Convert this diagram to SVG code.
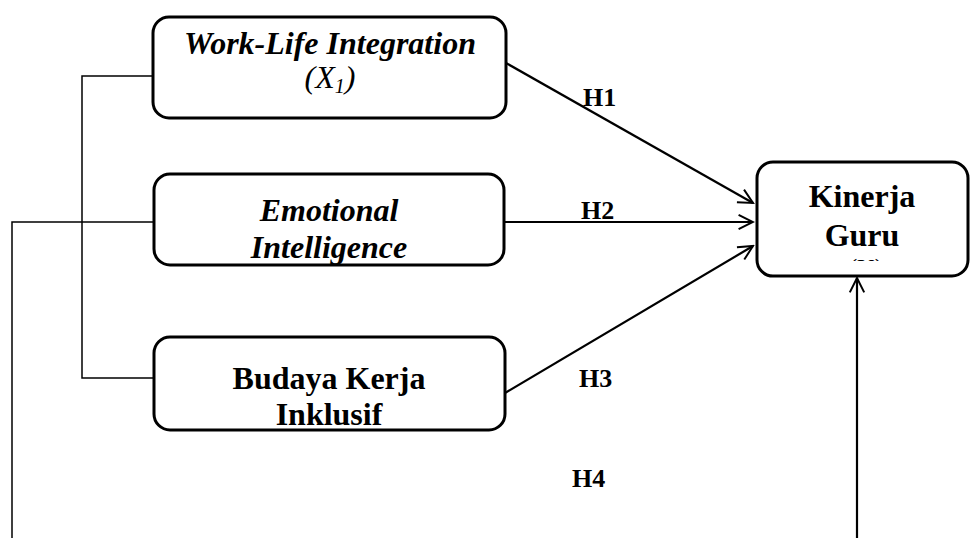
<svg xmlns="http://www.w3.org/2000/svg" width="970" height="538" viewBox="0 0 970 538">
<style>
.box{fill:#fff;stroke:#000;stroke-width:3}
.t{font-family:"Liberation Serif","Times New Roman",serif;font-size:32px;fill:#000;text-anchor:middle}
.b{font-weight:bold}
.i{font-style:italic}
.h{font-family:"Liberation Serif","Times New Roman",serif;font-size:26px;font-weight:bold;fill:#000}
.ln{fill:none;stroke:#000;stroke-width:1.5}
.ar{fill:none;stroke:#000;stroke-width:2.2}
</style>
<defs>
<marker id="open" viewBox="0 0 20 20" refX="18" refY="10" markerWidth="18" markerHeight="18" markerUnits="userSpaceOnUse" orient="auto">
<path d="M2,2 L18,10 L2,18" fill="none" stroke="#000" stroke-width="2.2"/>
</marker>
<clipPath id="yclip"><rect x="757" y="240" width="211" height="21"/></clipPath>
</defs>
<g id="connectors">
<path class="ln" d="M153,76 H82 V378 H153"/>
<path class="ln" d="M153,222 H12 V538"/>
<line class="ar" x1="506" y1="63" x2="753" y2="203" marker-end="url(#open)"/>
<line class="ar" x1="505" y1="222" x2="753" y2="222" marker-end="url(#open)"/>
<line class="ar" x1="505" y1="393" x2="753" y2="246" marker-end="url(#open)"/>
<line class="ar" x1="857" y1="538" x2="857" y2="278" marker-end="url(#open)"/>
</g>
<g id="labels">
<text class="h" x="583" y="106">H1</text>
<text class="h" x="581" y="219">H2</text>
<text class="h" x="579" y="387">H3</text>
<text class="h" x="572" y="487">H4</text>
</g>
<g id="x1">
<rect class="box" x="153" y="17" width="353" height="101" rx="16"/>
<text class="t b i" x="330" y="54">Work-Life Integration</text>
<text class="t i" x="330" y="88">(X<tspan font-size="20" dy="5">1</tspan><tspan dy="-5">)</tspan></text>
</g>
<g id="x2">
<rect class="box" x="154" y="174" width="350" height="91" rx="16"/>
<text class="t b i" x="329" y="221">Emotional</text>
<text class="t b i" x="329" y="258">Intelligence</text>
</g>
<g id="x3">
<rect class="box" x="154" y="337" width="351" height="93" rx="16"/>
<text class="t b" x="329" y="389">Budaya Kerja</text>
<text class="t b" x="329" y="425">Inklusif</text>
</g>
<g id="y">
<rect class="box" x="757" y="162" width="211" height="114" rx="16"/>
<text class="t b" x="862" y="207">Kinerja</text>
<text class="t b" x="862" y="246">Guru</text>
<text class="t" x="866" y="275" clip-path="url(#yclip)" style="font-size:24px">(Y)</text>
</g>
</svg>
